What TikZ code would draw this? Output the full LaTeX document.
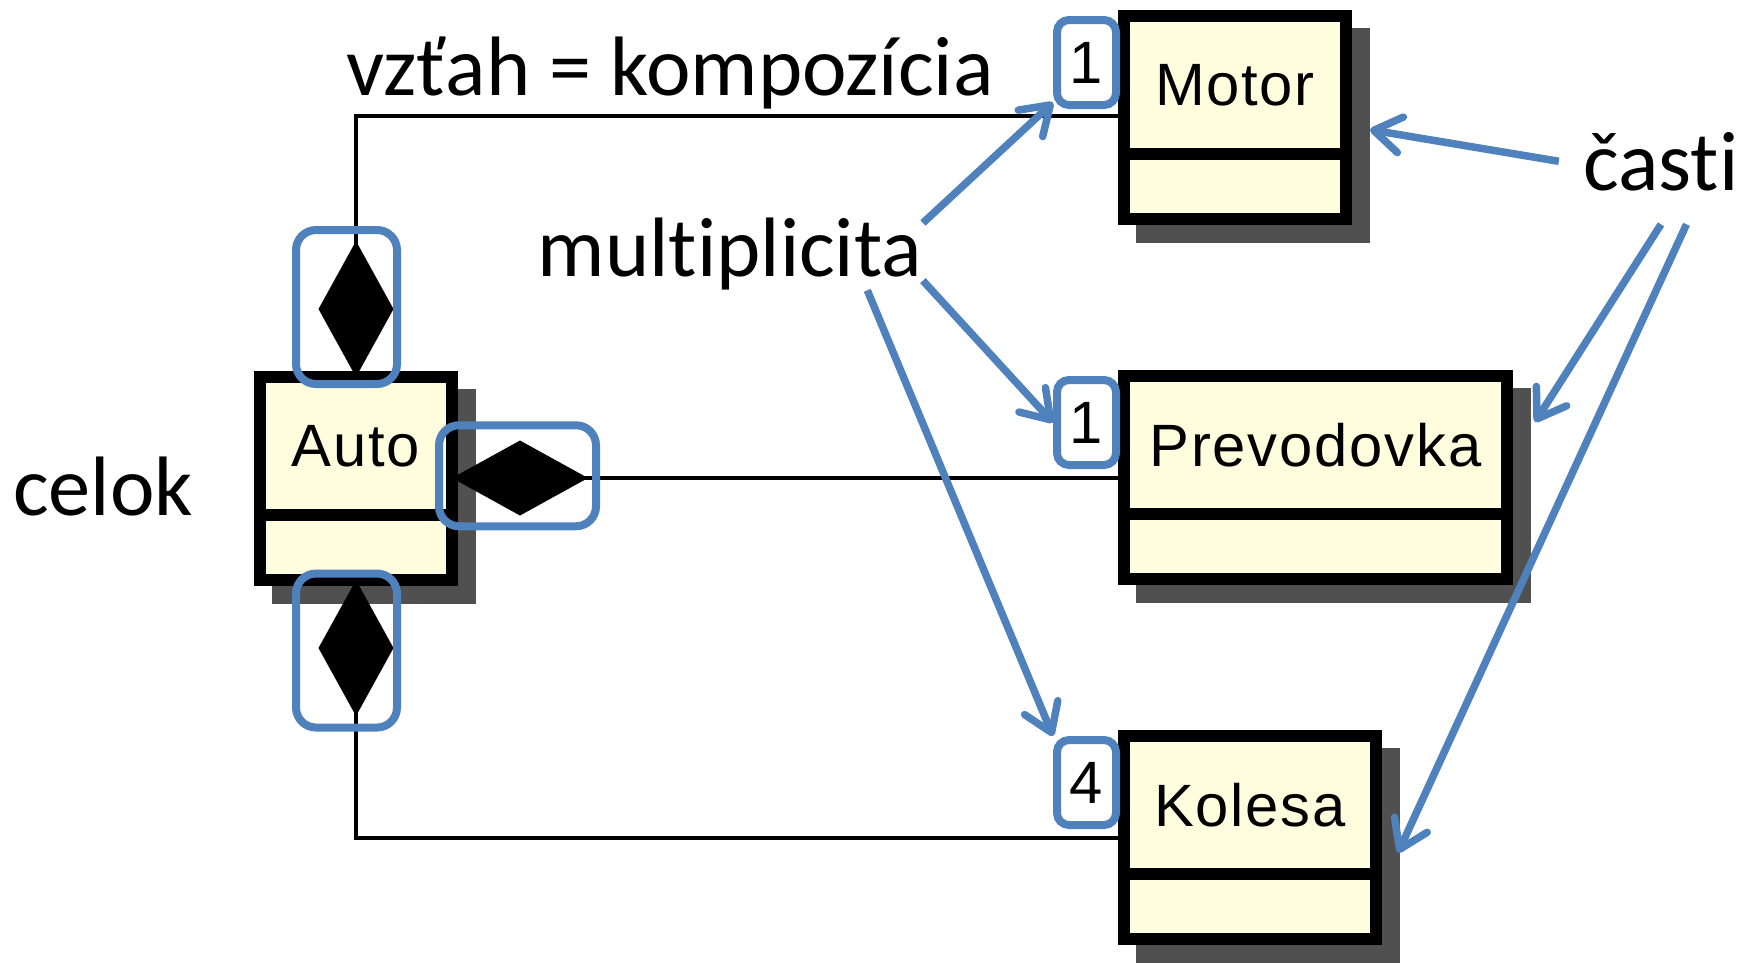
\documentclass[tikz,border=0pt]{standalone}
\usepackage{fontspec}
\setmainfont{Carlito}[Ligatures=NoCommon]
\newfontfamily\umlfont[LetterSpace=3]{Liberation Sans}
\usetikzlibrary{positioning, arrows.meta, backgrounds}
\definecolor{hlblue}{RGB}{79,129,189}
\definecolor{classfill}{RGB}{254,254,222}
\definecolor{shadowgray}{RGB}{80,80,80}
\tikzset{
  classname/.style={draw, line width=1.2mm, fill=classfill, outer sep=0pt, inner sep=0pt, minimum height=13.75mm, font=\umlfont\fontsize{17}{20}\selectfont},
  classbody/.style={draw, line width=1.2mm, fill=classfill, outer sep=0pt, inner sep=0pt, minimum height=6.55mm},
  boxshadow/.style={fill=shadowgray},
  mult/.style={draw=hlblue, line width=0.8mm, rounded corners=1.2mm, fill=white, minimum width=5.9mm, minimum height=8.5mm, inner sep=0pt, font=\umlfont\fontsize{17}{20}\selectfont},
  hlbox/.style={draw=hlblue, line width=0.8mm, rounded corners=2mm, inner sep=0pt},
  comp/.style={arrows={Diamond[length=13.6mm, width=7.5mm]-}, line width=0.35mm},
  note/.style={inner sep=0pt, font=\fontsize{24}{28}\selectfont},
  ptr/.style={-{Straight Barb[length=2.7mm, width=3.6mm, round]}, draw=hlblue, line width=0.75mm}
}
\begin{document}
\begin{tikzpicture}[x=0.1mm, y=-0.1mm]
\useasboundingbox (0,0) rectangle (1748,962);
\node[classname, minimum width=19.2mm, anchor=north west] (auto) at (260,377) {Auto};
\node[classbody, minimum width=19.2mm, below=0pt of auto] (autob) {};
\node[classname, minimum width=22.2mm, anchor=north west] (mot) at (1124,16) {Motor};
\node[classbody, minimum width=22.2mm, below=0pt of mot] (motb) {};
\node[classname, minimum width=38.3mm, anchor=north west] (pre) at (1124,376) {Prevodovka};
\node[classbody, minimum width=38.3mm, below=0pt of pre] (preb) {};
\node[classname, minimum width=25.2mm, anchor=north west] (kol) at (1124,736) {Kolesa};
\node[classbody, minimum width=25.2mm, below=0pt of kol] (kolb) {};
\node[mult, anchor=north east] (m1) at ([shift={(-4,0)}]mot.north west) {1};
\node[mult, anchor=north east] (m2) at ([shift={(-4,0)}]pre.north west) {1};
\node[mult, anchor=north east] (m3) at ([shift={(-4,0)}]kol.north west) {4};
\coordinate (j1) at ([shift={(0,7)}]m1.south);
\coordinate (j2) at ([shift={(0,9)}]m2.south);
\coordinate (j3) at ([shift={(0,9)}]m3.south);
\begin{scope}[on background layer]
\fill[boxshadow] ([shift={(12,12)}]auto.north west) rectangle ([shift={(24,24)}]autob.south east);
\fill[boxshadow] ([shift={(12,12)}]mot.north west) rectangle ([shift={(24,24)}]motb.south east);
\fill[boxshadow] ([shift={(12,12)}]pre.north west) rectangle ([shift={(24,24)}]preb.south east);
\fill[boxshadow] ([shift={(12,12)}]kol.north west) rectangle ([shift={(24,24)}]kolb.south east);
\draw[comp] (auto.north) |- (mot.west |- j1);
\draw[comp] (auto.east |- j2) -- (pre.west |- j2);
\draw[comp] (autob.south) |- (kol.west |- j3);
\end{scope}
\node[hlbox, minimum width=10.1mm, minimum height=15.4mm] (hl1) at ([shift={(-9.5,-70)}]auto.north) {};
\node[hlbox, minimum width=15.7mm, minimum height=10.1mm] (hl2) at ([shift={(65.5,30)}]auto.east) {};
\node[hlbox, minimum width=10.1mm, minimum height=15.4mm] (hl3) at ([shift={(-9.5,70.5)}]autob.south) {};
\node[note, anchor=base] (rel) at (670,95) {vzťah = kompozícia};
\node[note, anchor=base] (mul) at (730,276) {multiplicita};
\node[note, anchor=base] (cel) at (103,515) {celok};
\node[note, anchor=base, inner xsep=2.4mm, inner ysep=3.3mm] (cas) at (1661,190) {časti};
\draw[ptr] (mul.9) -- (m1.230);
\draw[ptr] (mul.-8) -- (m2.west);
\draw[ptr] (mul.-15) -- (m3.north west);
\draw[ptr] (cas.west) -- ([shift={(24,45)}]mot.east);
\draw[ptr] (cas.south) -- ([shift={(28,46)}]pre.north east);
\draw[ptr] (cas.-68) -- ([shift={(22,48)}]kol.east);
\end{tikzpicture}
\end{document}
